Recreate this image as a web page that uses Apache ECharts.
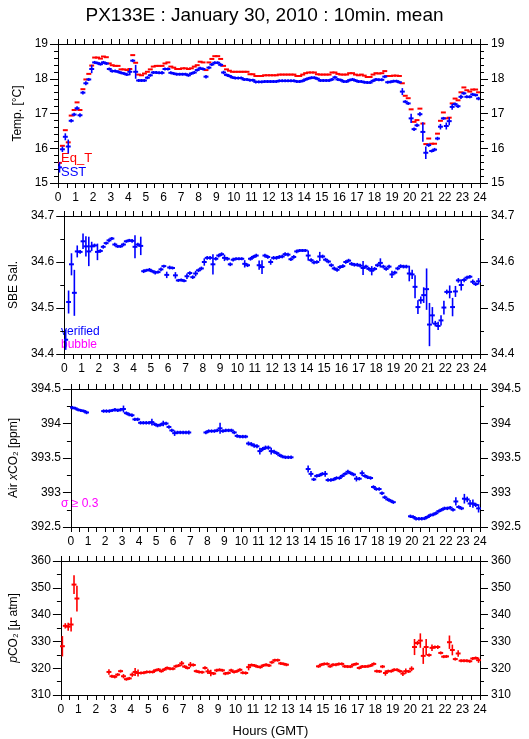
<!DOCTYPE html>
<html>
<head>
<meta charset="utf-8">
<script src="https://cdn.jsdelivr.net/npm/echarts@6/dist/echarts.min.js"></script>
<style>
  html, body { margin: 0; padding: 0; background: #fff; }
  #chart { width: 529px; height: 739px; }
</style>
</head>
<body>
<div id="chart"></div>
<script>
// 10 min bins, 0:00 - 24:00 GMT (bin centres)
const binHours = Array.from({ length: 144 }, (_, i) => (i + 0.5) / 6)

// --- Temp. panel ---
const eqT = [
  15.58, 16.07, 16.52, 16.17, 16.94, 17.1, 17.32, 17.1, 17.7, 17.98, 18.14, 18.38,
  18.61, 18.61, 18.58, 18.64, 18.62, 18.44, 18.39, 18.37, 18.37, 18.27, 18.27, 18.25,
  18.28, 18.68, 18.46, 18.12, 18.1, 18.15, 18.2, 18.27, 18.35, 18.37, 18.37, 18.37,
  18.44, 18.47, 18.35, 18.32, 18.28, 18.28, 18.3, 18.3, 18.28, 18.3, 18.35, 18.39,
  18.49, 18.47, 18.25, 18.47, 18.57, 18.65, 18.65, 18.57, 18.37, 18.27, 18.23, 18.2,
  18.2, 18.2, 18.2, 18.2, 18.2, 18.13, 18.13, 18.08, 18.08, 18.08, 18.1, 18.1,
  18.1, 18.1, 18.1, 18.12, 18.12, 18.12, 18.12, 18.12, 18.12, 18.08, 18.08, 18.12,
  18.16, 18.18, 18.18, 18.18, 18.13, 18.12, 18.12, 18.12, 18.12, 18.18, 18.18, 18.14,
  18.12, 18.12, 18.12, 18.16, 18.16, 18.12, 18.1, 18.12, 18.09, 18.05, 18.05, 18.12,
  18.16, 18.15, 18.16, 18.22, 18.08, 18.08, 18.09, 18.09, 18.08, 17.87, 17.51, 17.44,
  17.12, 16.76, 16.81, 17.14, 16.71, 16.12, 16.28, 16.13, 16.13, 16.42, 16.79, 17.03,
  16.86, 16.88, 17.29, 17.43, 17.38, 17.61, 17.75, 17.67, 17.63, 17.69, 17.69, 17.61
]
const sst = [
  15.45, 15.97, 16.33, 16.05, 16.79, 16.97, 17.15, 16.95, 17.6, 17.87, 17.98, 18.28,
  18.47, 18.45, 18.42, 18.47, 18.44, 18.28, 18.22, 18.22, 18.2, 18.17, 18.15, 18.12,
  18.2, 18.52, 18.2, 17.95, 17.95, 17.95, 18.03, 18.1, 18.18, 18.18, 18.17, 18.17,
  18.28, 18.28, 18.17, 18.15, 18.13, 18.13, 18.13, 18.13, 18.1, 18.15, 18.18, 18.25,
  18.3, 18.28, 18.06, 18.32, 18.41, 18.46, 18.46, 18.4, 18.18, 18.11, 18.08, 18.04,
  18.02, 18.02, 18.02, 17.98, 17.98, 17.96, 17.96, 17.91, 17.91, 17.91, 17.92, 17.92,
  17.92, 17.92, 17.92, 17.94, 17.94, 17.94, 17.94, 17.94, 17.94, 17.92, 17.92, 17.94,
  17.98, 18.01, 18.03, 18.03, 18.0, 17.95, 17.95, 17.95, 17.95, 17.98, 18.04, 17.98,
  17.96, 17.92, 17.92, 17.96, 17.98, 17.95, 17.92, 17.92, 17.9, 17.89, 17.89, 17.94,
  17.98, 17.97, 17.97, 18.06, 17.9, 17.91, 17.93, 17.93, 17.9, 17.63, 17.34, 17.29,
  16.86, 16.55, 16.66, 16.98, 16.47, 15.87, 16.09, 15.92, 15.96, 16.28, 16.62, 16.86,
  16.64, 16.78, 17.19, 17.27, 17.21, 17.48, 17.58, 17.48, 17.48, 17.55, 17.53, 17.43
]
const sstSd = [
  0.15, 0.08, 0.1, 0.2, 0.05, 0.05, 0.06, 0.06, 0.05, 0.06, 0.02, 0.12,
  0.02, 0.02, 0.01, 0.02, 0.02, 0.02, 0.02, 0.01, 0.01, 0.02, 0.01, 0.02,
  0.1, 0.04, 0.2, 0.01, 0.01, 0.01, 0.02, 0.02, 0.02, 0.01, 0.01, 0.05,
  0.02, 0.01, 0.02, 0.01, 0.01, 0.01, 0.01, 0.01, 0.01, 0.02, 0.02, 0.02,
  0.02, 0.03, 0.05, 0.03, 0.02, 0.02, 0.01, 0.05, 0.05, 0.02, 0.02, 0.01,
  0.01, 0.01, 0.01, 0.01, 0.01, 0.01, 0.01, 0.02, 0.01, 0.02, 0.01, 0.01,
  0.01, 0.01, 0.01, 0.01, 0.01, 0.01, 0.01, 0.02, 0.01, 0.01, 0.02, 0.01,
  0.01, 0.01, 0.01, 0.01, 0.01, 0.01, 0.01, 0.01, 0.01, 0.01, 0.01, 0.01,
  0.01, 0.01, 0.02, 0.02, 0.02, 0.01, 0.01, 0.01, 0.01, 0.01, 0.01, 0.02,
  0.02, 0.01, 0.01, 0.04, 0.02, 0.01, 0.01, 0.01, 0.02, 0.1, 0.04, 0.03,
  0.13, 0.05, 0.05, 0.06, 0.28, 0.18, 0.05, 0.03, 0.05, 0.05, 0.08, 0.03,
  0.1, 0.12, 0.08, 0.05, 0.05, 0.06, 0.02, 0.03, 0.03, 0.01, 0.01, 0.05
]

// --- SBE salinity panel ---
const sal = [
  34.431, 34.513, 34.595, 34.533, 34.623, 34.622, 34.645, 34.634, 34.623, 34.634, 34.636, 34.622,
  34.624, 34.633, 34.641, 34.647, 34.651, 34.638, 34.634, 34.634, 34.638, 34.645, 34.647, 34.646,
  34.633, 34.638, 34.635, 34.58, 34.582, 34.583, 34.58, 34.577, 34.578, 34.584, 34.591, 34.572,
  34.588, 34.587, 34.571, 34.56, 34.561, 34.559, 34.569, 34.576, 34.567, 34.575, 34.582, 34.586,
  34.6, 34.609, 34.609, 34.595, 34.607, 34.614, 34.617, 34.609, 34.607, 34.595, 34.605, 34.607,
  34.607, 34.607, 34.596, 34.593, 34.607, 34.611, 34.614, 34.593, 34.589, 34.614, 34.611, 34.6,
  34.609, 34.609, 34.611, 34.612, 34.617, 34.616, 34.606, 34.611, 34.623, 34.625, 34.625, 34.625,
  34.614, 34.604, 34.599, 34.6, 34.612, 34.612, 34.605, 34.601, 34.593, 34.586, 34.583, 34.589,
  34.591, 34.6, 34.603, 34.596, 34.594, 34.594, 34.592, 34.587, 34.59, 34.585, 34.581, 34.585,
  34.593, 34.598, 34.59, 34.585, 34.59, 34.573, 34.577, 34.586, 34.591, 34.59, 34.59, 34.575,
  34.573, 34.546, 34.502, 34.517, 34.528, 34.541, 34.464, 34.484, 34.466, 34.461, 34.473, 34.501,
  34.535, 34.535, 34.502, 34.536, 34.56, 34.55, 34.561, 34.566, 34.568, 34.557, 34.552, 34.558
]
const salSd = [
  0.022, 0.025, 0.024, 0.05, 0.013, 0.004, 0.017, 0.022, 0.032, 0.01, 0.004, 0.018,
  0.004, 0.004, 0.003, 0.004, 0.003, 0.004, 0.003, 0.003, 0.004, 0.003, 0.003, 0.004,
  0.025, 0.004, 0.02, 0.004, 0.003, 0.004, 0.003, 0.004, 0.003, 0.004, 0.003, 0.007,
  0.004, 0.003, 0.007, 0.003, 0.003, 0.003, 0.006, 0.004, 0.004, 0.006, 0.004, 0.004,
  0.008, 0.004, 0.004, 0.022, 0.004, 0.004, 0.004, 0.007, 0.004, 0.004, 0.004, 0.003,
  0.003, 0.003, 0.008, 0.004, 0.004, 0.004, 0.004, 0.01, 0.015, 0.004, 0.004, 0.006,
  0.004, 0.004, 0.004, 0.004, 0.004, 0.004, 0.004, 0.004, 0.004, 0.003, 0.003, 0.003,
  0.011, 0.004, 0.004, 0.004, 0.01, 0.004, 0.004, 0.004, 0.004, 0.004, 0.004, 0.004,
  0.004, 0.004, 0.004, 0.004, 0.004, 0.004, 0.004, 0.015, 0.004, 0.004, 0.01, 0.004,
  0.004, 0.01, 0.004, 0.004, 0.004, 0.008, 0.004, 0.004, 0.004, 0.004, 0.004, 0.017,
  0.01, 0.025, 0.015, 0.008, 0.017, 0.045, 0.047, 0.018, 0.006, 0.009, 0.011, 0.015,
  0.005, 0.014, 0.02, 0.012, 0.005, 0.012, 0.005, 0.004, 0.004, 0.005, 0.004, 0.007
]

// --- Air xCO2 panel ---
const airCO2 = [
  394.23, 394.22, 394.2, 394.19, 394.18, 394.16, null, null, null, null, null, 394.18,
  394.18, 394.18, 394.19, 394.2, 394.19, 394.2, 394.21, 394.15, 394.13, 394.12, 394.06, 394.06,
  394.01, 394.01, 394.01, 394.01, 394.02, 393.99, 393.97, 393.98, 394.0, 394.0, 393.95, 393.9,
  393.86, 393.87, 393.87, 393.87, 393.87, 393.87, null, null, null, null, null, 393.87,
  393.89, 393.89, 393.89, 393.9, 393.93, 393.89, 393.9, 393.9, 393.9, 393.87, 393.82, 393.81,
  393.81, 393.81, 393.71, 393.7, 393.68, 393.67, 393.6, 393.63, 393.65, 393.65, 393.6, 393.59,
  393.57, 393.54, 393.52, 393.51, 393.51, 393.51, null, null, null, null, null, 393.34,
  393.27, 393.19, 393.24, 393.25, 393.27, 393.27, 393.18, 393.18, 393.19, 393.21, 393.21, 393.24,
  393.27, 393.3, 393.28, 393.26, 393.2, 393.2, 393.28, 393.24, 393.22, 393.21, 393.08, 393.05,
  393.05, 392.99, 392.93, 392.9, 392.88, 392.86, null, null, null, null, null, 392.655,
  392.645, 392.62, 392.62, 392.62, 392.625, 392.645, 392.67, 392.68, 392.7, 392.73, 392.75, 392.77,
  392.77, 392.78, 392.75, 392.87, 392.79, 392.77, 392.91, 392.9, 392.84, 392.84, 392.82, 392.77
]
const airSd = [
  0.025, 0.02, 0.02, 0.02, 0.02, 0.025, null, null, null, null, null, 0.025,
  0.025, 0.025, 0.02, 0.025, 0.025, 0.025, 0.05, 0.025, 0.025, 0.025, 0.025, 0.025,
  0.025, 0.025, 0.025, 0.025, 0.05, 0.025, 0.025, 0.025, 0.04, 0.025, 0.025, 0.025,
  0.04, 0.025, 0.025, 0.025, 0.025, 0.03, null, null, null, null, null, 0.025,
  0.025, 0.025, 0.025, 0.025, 0.08, 0.025, 0.025, 0.025, 0.025, 0.025, 0.025, 0.025,
  0.025, 0.025, 0.03, 0.03, 0.03, 0.03, 0.05, 0.03, 0.03, 0.03, 0.05, 0.03,
  0.025, 0.025, 0.025, 0.025, 0.025, 0.025, null, null, null, null, null, 0.05,
  0.04, 0.025, 0.025, 0.025, 0.025, 0.04, 0.025, 0.025, 0.025, 0.025, 0.025, 0.025,
  0.025, 0.03, 0.025, 0.025, 0.04, 0.025, 0.04, 0.025, 0.025, 0.025, 0.025, 0.025,
  0.025, 0.025, 0.025, 0.025, 0.025, 0.025, null, null, null, null, null, 0.025,
  0.025, 0.025, 0.025, 0.025, 0.025, 0.025, 0.025, 0.025, 0.025, 0.025, 0.025, 0.025,
  0.025, 0.025, 0.025, 0.06, 0.025, 0.025, 0.07, 0.04, 0.05, 0.06, 0.03, 0.06
]

// --- pCO2 panel ---
const pCO2 = [
  328.2, 335.8, 335.5, 336.3, 351.2, 346.0, null, null, null, null, null, null,
  null, null, null, null, 318.6, 317.0, 316.8, 317.6, 318.9, 317.0, 315.9, 316.2,
  317.6, 318.6, 318.2, 318.2, 318.3, 318.6, 318.6, 318.6, 319.2, 319.5, 318.9, 319.5,
  320.1, 319.8, 319.8, 320.7, 321.0, 321.8, 320.6, 320.1, 321.3, 321.2, 318.9, 318.6,
  318.5, 320.1, 318.8, 318.2, 318.0, 319.2, 319.4, 319.2, 318.0, 318.2, 319.2, 318.6,
  318.9, 319.4, 318.3, 318.2, 320.4, 321.2, 321.0, 320.6, 320.4, 321.0, 321.3, 321.0,
  322.2, 323.0, 323.0, 321.8, 321.6, 321.3, null, null, null, null, null, null,
  null, null, null, null, 320.7, 321.3, 321.6, 321.6, 320.7, 321.3, 321.3, 321.6,
  321.6, 320.7, 320.6, 320.6, 321.3, 321.6, 320.1, 320.6, 320.6, 320.7, 321.0, 321.6,
  318.9, 318.8, 320.6, 318.2, 318.9, 318.9, 319.4, 319.4, 318.9, 318.0, 318.9, 318.8,
  319.8, 327.9, 329.4, 330.3, 324.6, 327.9, 324.9, 327.6, 327.9, 327.9, 325.7, 324.3,
  324.4, 329.7, 326.8, 323.4, 325.5, 322.8, 322.8, 322.8, 322.6, 323.6, 323.8, 323.0
]
const pCO2Sd = [
  3.8, 1.0, 1.5, 2.6, 3.5, 4.8, null, null, null, null, null, null,
  null, null, null, null, 1.0, 0.6, 0.6, 0.5, 0.5, 0.8, 0.5, 0.5,
  0.8, 1.5, 1.3, 0.5, 0.4, 0.4, 0.4, 0.4, 0.5, 0.5, 0.4, 0.5,
  0.4, 0.4, 0.4, 0.5, 0.4, 0.9, 0.5, 0.4, 1.0, 0.6, 0.4, 0.5,
  0.4, 0.6, 1.0, 1.2, 0.5, 0.6, 0.5, 0.4, 0.6, 0.4, 0.6, 0.4,
  0.5, 0.5, 0.4, 0.6, 1.2, 0.5, 0.4, 0.4, 0.4, 0.5, 0.4, 0.4,
  0.4, 0.4, 0.4, 0.4, 0.4, 0.4, null, null, null, null, null, null,
  null, null, null, null, 0.4, 0.4, 0.4, 0.4, 0.4, 0.4, 0.4, 0.4,
  0.4, 0.4, 0.4, 0.4, 0.4, 0.4, 0.5, 0.4, 0.4, 0.4, 0.4, 0.4,
  0.4, 0.4, 0.6, 1.0, 0.4, 0.4, 0.4, 0.4, 0.4, 0.9, 1.0, 0.5,
  0.9, 3.0, 0.8, 2.7, 3.0, 3.0, 0.6, 1.2, 0.6, 0.7, 0.5, 0.5,
  0.5, 2.5, 2.0, 0.5, 1.2, 0.5, 0.4, 0.4, 0.4, 0.5, 0.5, 1.0
]

const FONT = 'Liberation Sans, Arial, Helvetica, sans-serif'
const BLUE = '#0000ff'
const RED = '#ff0000'
const MAGENTA = '#ff00ff'

// panel frames (pixels)
const grids = [
  { left: 58, top: 44, width: 422, height: 139 },
  { left: 58, top: 216, width: 422, height: 138 },
  { left: 58, top: 389, width: 422, height: 138 },
  { left: 58, top: 561, width: 422, height: 138 }
]

function pack(vals, sds) {
  return binHours.map((h, i) => [h, vals[i], sds ? sds[i] : null])
}

// horizontal 10 min bar + vertical +-sd bar
function renderMark(params, api) {
  const v = api.value(1)
  if (v == null || isNaN(v)) return
  const h = api.value(0)
  const s = api.value(2)
  const color = api.visual('color')
  const a = api.coord([h - 1 / 12, v])
  const b = api.coord([h + 1 / 12, v])
  const children = [{
    type: 'line',
    shape: { x1: a[0] - 1, y1: a[1], x2: b[0] + 1, y2: b[1] },
    style: { stroke: color, lineWidth: 2 }
  }]
  if (s != null && !isNaN(s)) {
    const t = api.coord([h, v + s])
    const d = api.coord([h, v - s])
    const half = Math.max((d[1] - t[1]) / 2, 1.5)
    const c = (t[1] + d[1]) / 2
    children.push({
      type: 'line',
      shape: { x1: t[0], y1: c - half, x2: d[0], y2: c + half },
      style: { stroke: color, lineWidth: 1.6 }
    })
  }
  return { type: 'group', children }
}

function markSeries(gi, vals, sds, color) {
  return {
    type: 'custom',
    xAxisIndex: gi * 2,
    yAxisIndex: gi * 2,
    clip: true,
    silent: true,
    itemStyle: { color },
    renderItem: renderMark,
    encode: { x: 0, y: 1 },
    data: pack(vals, sds)
  }
}

const xAxes = []
const yAxes = []
function addAxes(gi, yMin, yMax, yStep, yMinor, yName, nameGap, xName) {
  const tick = { lineStyle: { color: '#000', width: 1 } }
  const label = { color: '#000', fontSize: 12, fontFamily: FONT }
  xAxes.push({
    gridIndex: gi, type: 'value', min: 0, max: 24, interval: 1, position: 'bottom',
    axisLine: { onZero: false, lineStyle: { color: '#000', width: 1 } },
    axisTick: { show: true, length: 5, ...tick },
    minorTick: { show: true, splitNumber: 2, length: 5, ...tick },
    splitLine: { show: false },
    axisLabel: { ...label, margin: 9 },
    name: xName || '', nameLocation: 'middle', nameGap: 30,
    nameTextStyle: { color: '#000', fontSize: 13, fontFamily: FONT }
  }, {
    gridIndex: gi, type: 'value', min: 0, max: 24, interval: 1, position: 'top',
    axisLine: { onZero: false, lineStyle: { color: '#000', width: 1 } },
    axisTick: { show: true, length: 5, ...tick },
    minorTick: { show: true, splitNumber: 2, length: 5, ...tick },
    splitLine: { show: false },
    axisLabel: { show: false }
  })
  const yBase = {
    gridIndex: gi, type: 'value', min: yMin, max: yMax, interval: yStep,
    axisLine: { show: true, onZero: false, lineStyle: { color: '#000', width: 1 } },
    axisTick: { show: true, length: 8, ...tick },
    minorTick: { show: true, splitNumber: yMinor, length: 4, ...tick },
    splitLine: { show: false }
  }
  yAxes.push({
    ...yBase, position: 'left',
    axisLabel: { ...label, margin: 10 },
    name: yName, nameLocation: 'middle', nameGap: nameGap,
    nameTextStyle: {
      color: '#000', fontSize: 12, fontFamily: FONT,
      rich: {
        n: { fontSize: 12, fontFamily: FONT, color: '#000' },
        i: { fontSize: 12, fontFamily: FONT, fontStyle: 'italic', color: '#000' }
      }
    }
  }, {
    ...yBase, position: 'right',
    axisLabel: { ...label, margin: 11 }
  })
}

addAxes(0, 15, 19, 1, 5, 'Temp. [°C]', 25)
addAxes(1, 34.4, 34.7, 0.1, 2, 'SBE Sal.', 39)
addAxes(2, 392.5, 394.5, 0.5, 2, '{n|Air }{i|x}{n|CO₂ [ppm]}', 50)
addAxes(3, 310, 360, 10, 2, '{i|p}{n|CO₂ [µ atm]}', 32, 'Hours (GMT)')

const legendText = (x, y, text, color, size) => ({
  type: 'text', left: x, top: y,
  style: { text, fill: color, fontSize: size, fontFamily: FONT }
})

const chart = echarts.init(document.getElementById('chart'), null, { renderer: 'canvas' })
chart.setOption({
  backgroundColor: '#fff',
  animation: false,
  title: {
    text: 'PX133E : January 30, 2010 : 10min. mean',
    left: 'center', top: 1,
    textStyle: { fontSize: 19, fontWeight: 'normal', color: '#000', fontFamily: FONT }
  },
  grid: grids,
  xAxis: xAxes,
  yAxis: yAxes,
  graphic: [
    legendText(61, 152, 'Eq_T', RED, 13),
    legendText(61, 166, 'SST', BLUE, 13),
    legendText(61, 326, 'verified', BLUE, 12),
    legendText(61, 339, 'bubble', MAGENTA, 12),
    legendText(61, 498, 'σ ≥ 0.3', MAGENTA, 12)
  ],
  series: [
    markSeries(0, eqT, null, RED),
    markSeries(0, sst, sstSd, BLUE),
    markSeries(1, sal, salSd, BLUE),
    markSeries(2, airCO2, airSd, BLUE),
    markSeries(3, pCO2, pCO2Sd, RED)
  ]
})
</script>
</body>
</html>
